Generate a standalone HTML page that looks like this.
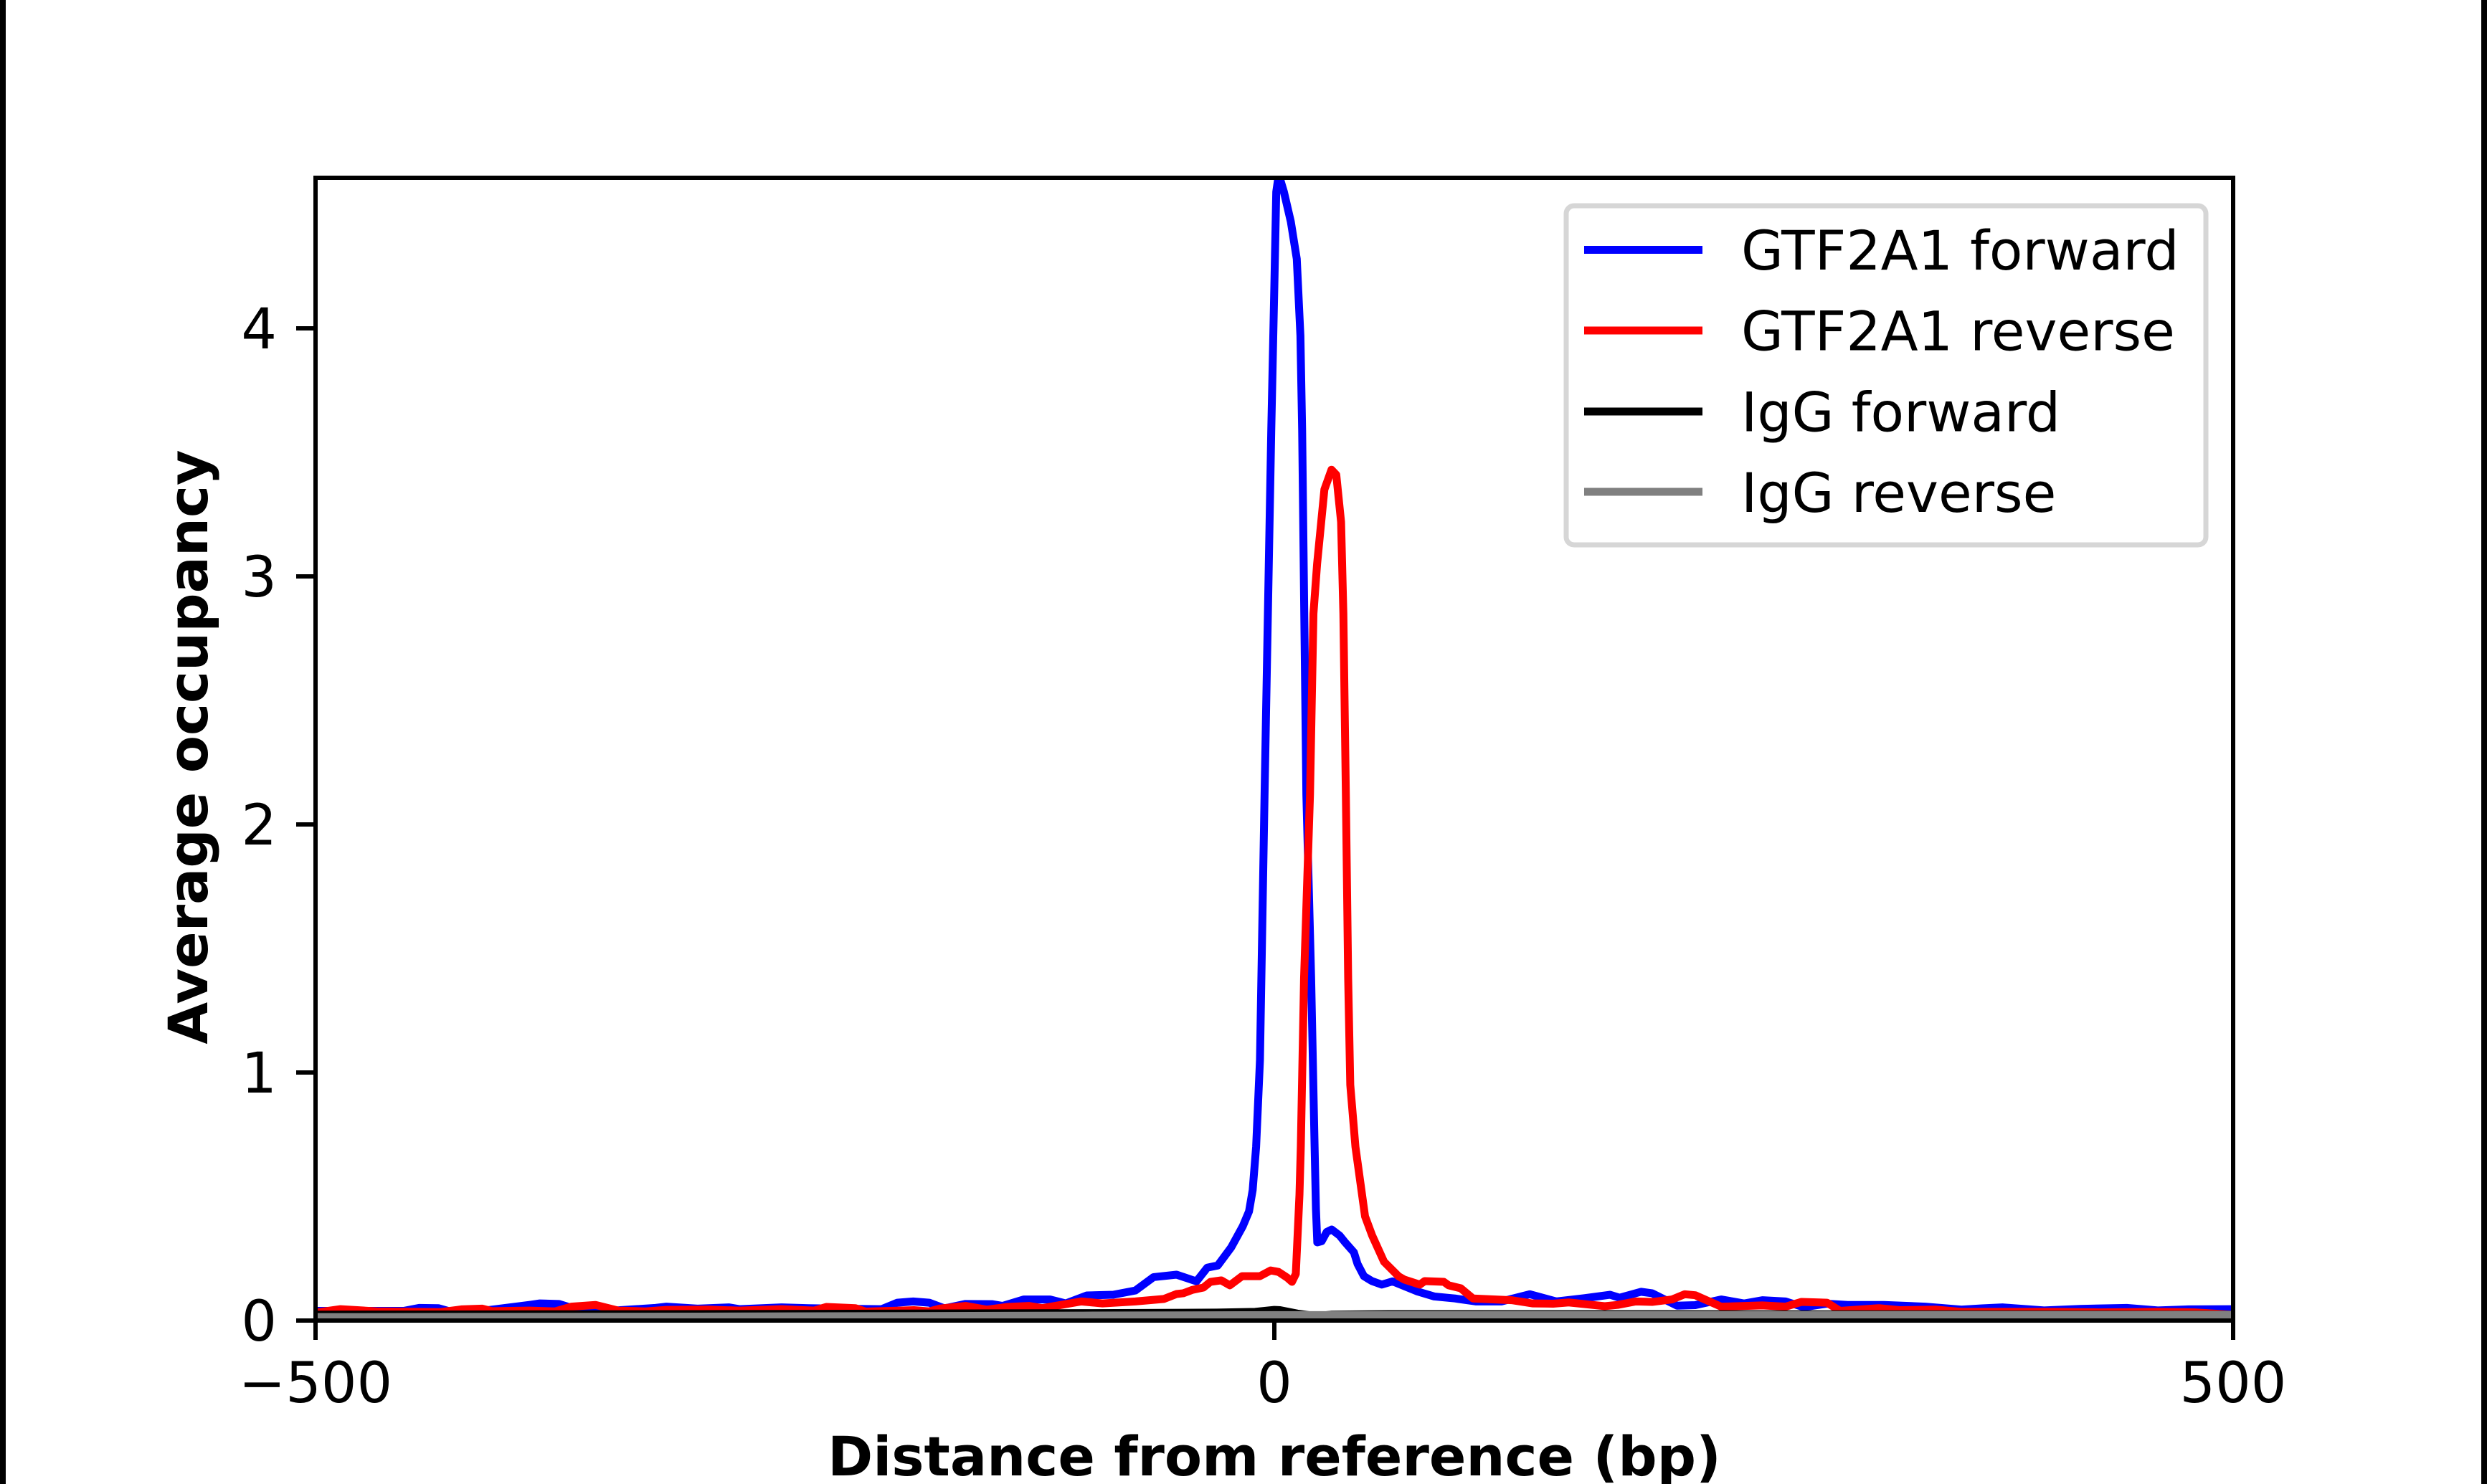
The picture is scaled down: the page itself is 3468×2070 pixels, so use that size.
<!DOCTYPE html>
<html>
<head>
<meta charset="utf-8">
<style>
  html, body { margin: 0; padding: 0; background: #ffffff; }
  svg { display: block; }
  text { font-family: "DejaVu Sans", "Liberation Sans", sans-serif; fill: #000; }
  .tick { font-size: 78px; }
  .leg { font-size: 76px; }
  .lab { font-size: 76px; font-weight: bold; }
  .series { fill: none; stroke-linejoin: round; stroke-linecap: butt; vector-effect: non-scaling-stroke; }
</style>
</head>
<body>
<svg width="3468" height="2070" viewBox="0 0 3468 2070" xmlns="http://www.w3.org/2000/svg">
  <rect x="0" y="0" width="3468" height="2070" fill="#ffffff"/>
  <!-- side borders -->
  <rect x="0" y="0" width="8" height="2070" fill="#000"/>
  <rect x="3460" y="0" width="8" height="2070" fill="#000"/>

  <defs>
    <clipPath id="axclip" clipPathUnits="userSpaceOnUse">
      <rect x="440" y="248" width="2674" height="1594"/>
    </clipPath>
  </defs>

  <!-- data -->
  <g clip-path="url(#axclip)">
    <g transform="translate(1777,1842) scale(2.674,-346)">
      <polyline class="series" stroke="#0000ff" stroke-width="11" points="-500,0.039 -498.8,0.039 -454,0.039 -446,0.051 -436,0.050 -430,0.037 -413,0.039 -388.5,0.063 -383,0.069 -373,0.067 -364,0.045 -354,0.043 -344.6,0.040 -322.7,0.051 -317,0.056 -300.8,0.048 -284.3,0.053 -279,0.046 -257,0.053 -243,0.050 -229.5,0.048 -204.8,0.046 -196.6,0.072 -188.3,0.077 -180,0.072 -172,0.049 -161,0.067 -147,0.066 -141.7,0.059 -130.7,0.085 -117,0.085 -108.8,0.069 -97.8,0.101 -84,0.104 -72.5,0.121 -63,0.175 -51,0.185 -40.6,0.158 -35,0.213 -29.5,0.222 -22.5,0.295 -16.4,0.381 -13.2,0.44 -11.3,0.526 -9.5,0.70 -7.5,1.05 -5.1,2.12 -1.6,3.59 0,4.17 1,4.55 2.3,4.62 5,4.55 8.6,4.43 11.7,4.28 13.6,3.97 14.5,3.59 16.7,2.12 19.2,1.38 21,0.70 21.7,0.45 22.4,0.315 24.7,0.32 27.3,0.357 29.9,0.367 34,0.343 36.6,0.318 41.5,0.275 43.4,0.228 46.7,0.179 50.9,0.159 56,0.145 61.6,0.158 74.7,0.117 83.4,0.097 94.2,0.089 105,0.077 118.4,0.077 133.2,0.106 147,0.077 156,0.085 161.6,0.090 175,0.104 180,0.092 191.2,0.116 197,0.110 210,0.060 219.5,0.062 233,0.085 245,0.069 254.5,0.082 266.6,0.077 276,0.054 288.2,0.068 299,0.063 317.9,0.063 339.4,0.056 358.3,0.044 369,0.049 379.8,0.053 401.4,0.041 420.3,0.047 444.5,0.051 460.7,0.041 476.8,0.045 500,0.046"/>
      <polyline class="series" stroke="#ff0000" stroke-width="11" points="-500,0.034 -498,0.034 -487,0.046 -468,0.037 -435,0.034 -424,0.045 -413,0.048 -408,0.038 -388.5,0.040 -375,0.037 -366.6,0.056 -354,0.063 -342,0.040 -328,0.037 -317,0.043 -295,0.044 -279,0.040 -257,0.046 -240,0.040 -233.6,0.055 -218.5,0.050 -213,0.036 -188,0.042 -180,0.037 -174.6,0.048 -161,0.059 -150,0.044 -139,0.055 -128,0.059 -121,0.050 -100.6,0.077 -89.6,0.069 -72.5,0.077 -57.6,0.087 -51,0.107 -47.5,0.11 -42.6,0.124 -37,0.133 -33.3,0.156 -27.7,0.162 -23.2,0.142 -16.8,0.179 -7.5,0.179 -1.9,0.202 2.2,0.196 6.7,0.173 9.2,0.156 11.2,0.188 13.1,0.506 13.8,0.70 15.5,1.38 18.6,2.12 20.4,2.85 22.3,3.05 26.1,3.35 29.8,3.43 32.3,3.41 34.8,3.22 36,2.85 37.3,2.12 38.5,1.38 39.6,0.95 42.3,0.70 47.3,0.42 51,0.343 57.2,0.237 64.7,0.179 67.8,0.165 75.9,0.145 78.4,0.159 88.4,0.156 90.9,0.142 97.2,0.130 103.6,0.089 123.8,0.082 134.6,0.069 145.4,0.068 153.5,0.073 172.3,0.058 179,0.063 188.5,0.077 197,0.075 207.4,0.085 214,0.106 219.5,0.102 233,0.056 254.5,0.061 266.6,0.056 274.8,0.075 288.2,0.072 295,0.039 315.2,0.050 326,0.042 344.8,0.044 358.3,0.035 406.8,0.035 430,0.033 460.7,0.035 480,0.033 498.5,0.024 500,0.024"/>
      <polyline class="series" stroke="#000000" stroke-width="11" points="-500,0.024 -300,0.026 -100,0.03 -30,0.032 -10,0.035 0,0.043 3,0.042 12,0.028 22,0.018 30,0.024 60,0.026 200,0.026 500,0.024"/>
      <polyline class="series" stroke="#808080" stroke-width="11" points="-500,0.014 -300,0.016 -100,0.02 0,0.022 500,0.023"/>
    </g>
  </g>

  <!-- spines -->
  <rect x="440" y="248" width="2674" height="1594" fill="none" stroke="#000" stroke-width="6"/>

  <!-- y ticks -->
  <g stroke="#000" stroke-width="6">
    <line x1="413" y1="1842" x2="440" y2="1842"/>
    <line x1="413" y1="1496" x2="440" y2="1496"/>
    <line x1="413" y1="1150" x2="440" y2="1150"/>
    <line x1="413" y1="804" x2="440" y2="804"/>
    <line x1="413" y1="458" x2="440" y2="458"/>
  </g>
  <g class="tick" text-anchor="end">
    <text x="386" y="1870">0</text>
    <text x="386" y="1524">1</text>
    <text x="386" y="1178">2</text>
    <text x="386" y="832">3</text>
    <text x="386" y="486">4</text>
  </g>

  <!-- x ticks -->
  <g stroke="#000" stroke-width="6">
    <line x1="440" y1="1842" x2="440" y2="1869"/>
    <line x1="1777" y1="1842" x2="1777" y2="1869"/>
    <line x1="3114" y1="1842" x2="3114" y2="1869"/>
  </g>
  <g class="tick" text-anchor="middle">
    <text x="440" y="1956">−500</text>
    <text x="1777" y="1956">0</text>
    <text x="3114" y="1956">500</text>
  </g>

  <!-- axis labels -->
  <text class="lab" x="1777" y="2058" text-anchor="middle">Distance from reference (bp)</text>
  <text class="lab" transform="translate(289,1042) rotate(-90)" text-anchor="middle">Average occupancy</text>

  <!-- legend -->
  <rect x="2184" y="287" width="892" height="473" rx="11" ry="11" fill="#ffffff" stroke="#d6d6d6" stroke-width="7"/>
  <g stroke-width="11">
    <line x1="2209" y1="348.5" x2="2374" y2="348.5" stroke="#0000ff"/>
    <line x1="2209" y1="461" x2="2374" y2="461" stroke="#ff0000"/>
    <line x1="2209" y1="574" x2="2374" y2="574" stroke="#000000"/>
    <line x1="2209" y1="686" x2="2374" y2="686" stroke="#808080"/>
  </g>
  <g class="leg">
    <text x="2428" y="376">GTF2A1 forward</text>
    <text x="2428" y="488.5">GTF2A1 reverse</text>
    <text x="2428" y="601.5">IgG forward</text>
    <text x="2428" y="714">IgG reverse</text>
  </g>
</svg>
</body>
</html>
